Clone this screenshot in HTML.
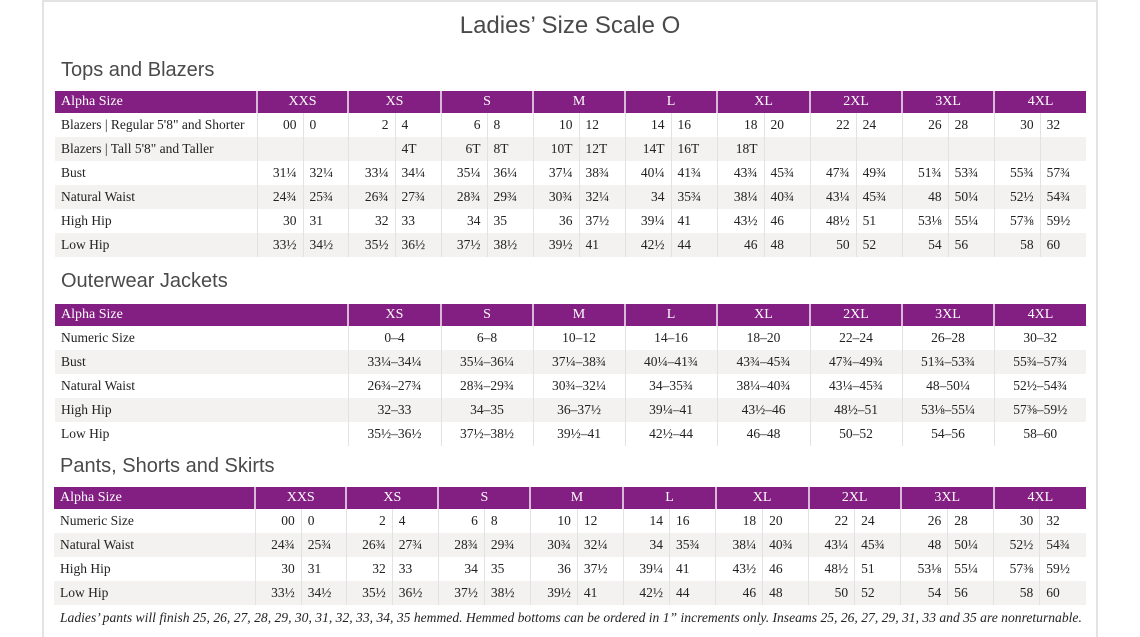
<!DOCTYPE html>
<html><head><meta charset="utf-8"><style>
*{margin:0;padding:0;box-sizing:border-box}
body{width:1140px;height:637px;background:#fff;position:relative;overflow:hidden;font-family:"Liberation Serif",serif;color:#222}
.frame{position:absolute;left:42px;top:0;width:1056px;height:637px;border-left:2px solid #e4e2e2;border-right:2px solid #e4e2e2;border-top:2px solid #e4e2e2}
h1{position:absolute;left:0;width:1140px;top:12px;text-align:center;font:24px "Liberation Sans",sans-serif;color:#4a4a4a}
h2{position:absolute;font:20px "Liberation Sans",sans-serif;color:#4a4a4a;font-weight:normal}
table{position:absolute;border-collapse:collapse;table-layout:fixed;font-size:13.5px}
td{height:24px;white-space:nowrap;overflow:hidden;border-right:1px solid #e2e2e2}
tr.h td{height:22px;background:#831f82;color:#fff;text-align:center;border-right:2px solid #d9b8d8;font-size:14px}
tr.h td:first-child{text-align:left;padding-left:6px}
tr.g td{background:#f3f2f1}
td.n{padding-left:6px;text-align:left}
td.a{text-align:right;padding-right:6px}
td.b{text-align:left;padding-left:6px}
td.c{text-align:center}
tr td:last-child{border-right:none}
tr.h td:last-child{border-right:none}
.foot{position:absolute;left:60px;top:610px;font:italic 13.6px "Liberation Serif",serif;color:#222;white-space:nowrap}
</style></head><body>
<div class="frame"></div>
<h1>Ladies’ Size Scale O</h1>

<h2 style="left:61px;top:59px">Tops and Blazers</h2>
<table style="left:55px;top:91px;width:1031px">
<colgroup><col style="width:202px"><col style="width:46px"><col style="width:45px"><col style="width:47px"><col style="width:46px"><col style="width:46px"><col style="width:46px"><col style="width:46px"><col style="width:46px"><col style="width:46px"><col style="width:46px"><col style="width:47px"><col style="width:46px"><col style="width:46px"><col style="width:46px"><col style="width:46px"><col style="width:46px"><col style="width:46px"><col style="width:46px"></colgroup>
<tr class="h"><td>Alpha Size</td><td colspan="2">XXS</td><td colspan="2">XS</td><td colspan="2">S</td><td colspan="2">M</td><td colspan="2">L</td><td colspan="2">XL</td><td colspan="2">2XL</td><td colspan="2">3XL</td><td colspan="2">4XL</td></tr>
<tr><td class="n">Blazers&nbsp;| Regular 5'8" and Shorter</td><td class="a">00</td><td class="b">0</td><td class="a">2</td><td class="b">4</td><td class="a">6</td><td class="b">8</td><td class="a">10</td><td class="b">12</td><td class="a">14</td><td class="b">16</td><td class="a">18</td><td class="b">20</td><td class="a">22</td><td class="b">24</td><td class="a">26</td><td class="b">28</td><td class="a">30</td><td class="b">32</td></tr>
<tr class="g"><td class="n">Blazers&nbsp;| Tall 5'8" and Taller</td><td class="a"></td><td class="b"></td><td class="a"></td><td class="b">4T</td><td class="a">6T</td><td class="b">8T</td><td class="a">10T</td><td class="b">12T</td><td class="a">14T</td><td class="b">16T</td><td class="a">18T</td><td class="b"></td><td class="a"></td><td class="b"></td><td class="a"></td><td class="b"></td><td class="a"></td><td class="b"></td></tr>
<tr><td class="n">Bust</td><td class="a">31¼</td><td class="b">32¼</td><td class="a">33¼</td><td class="b">34¼</td><td class="a">35¼</td><td class="b">36¼</td><td class="a">37¼</td><td class="b">38¾</td><td class="a">40¼</td><td class="b">41¾</td><td class="a">43¾</td><td class="b">45¾</td><td class="a">47¾</td><td class="b">49¾</td><td class="a">51¾</td><td class="b">53¾</td><td class="a">55¾</td><td class="b">57¾</td></tr>
<tr class="g"><td class="n">Natural Waist</td><td class="a">24¾</td><td class="b">25¾</td><td class="a">26¾</td><td class="b">27¾</td><td class="a">28¾</td><td class="b">29¾</td><td class="a">30¾</td><td class="b">32¼</td><td class="a">34</td><td class="b">35¾</td><td class="a">38¼</td><td class="b">40¾</td><td class="a">43¼</td><td class="b">45¾</td><td class="a">48</td><td class="b">50¼</td><td class="a">52½</td><td class="b">54¾</td></tr>
<tr><td class="n">High Hip</td><td class="a">30</td><td class="b">31</td><td class="a">32</td><td class="b">33</td><td class="a">34</td><td class="b">35</td><td class="a">36</td><td class="b">37½</td><td class="a">39¼</td><td class="b">41</td><td class="a">43½</td><td class="b">46</td><td class="a">48½</td><td class="b">51</td><td class="a">53⅛</td><td class="b">55¼</td><td class="a">57⅜</td><td class="b">59½</td></tr>
<tr class="g"><td class="n">Low Hip</td><td class="a">33½</td><td class="b">34½</td><td class="a">35½</td><td class="b">36½</td><td class="a">37½</td><td class="b">38½</td><td class="a">39½</td><td class="b">41</td><td class="a">42½</td><td class="b">44</td><td class="a">46</td><td class="b">48</td><td class="a">50</td><td class="b">52</td><td class="a">54</td><td class="b">56</td><td class="a">58</td><td class="b">60</td></tr>
</table>

<h2 style="left:61px;top:270px">Outerwear Jackets</h2>
<table style="left:55px;top:304px;width:1031px">
<colgroup><col style="width:293px"><col style="width:93px"><col style="width:92px"><col style="width:92px"><col style="width:92px"><col style="width:93px"><col style="width:92px"><col style="width:92px"><col style="width:92px"></colgroup>
<tr class="h"><td>Alpha Size</td><td>XS</td><td>S</td><td>M</td><td>L</td><td>XL</td><td>2XL</td><td>3XL</td><td>4XL</td></tr>
<tr><td class="n">Numeric Size</td><td class="c">0–4</td><td class="c">6–8</td><td class="c">10–12</td><td class="c">14–16</td><td class="c">18–20</td><td class="c">22–24</td><td class="c">26–28</td><td class="c">30–32</td></tr>
<tr class="g"><td class="n">Bust</td><td class="c">33¼–34¼</td><td class="c">35¼–36¼</td><td class="c">37¼–38¾</td><td class="c">40¼–41¾</td><td class="c">43¾–45¾</td><td class="c">47¾–49¾</td><td class="c">51¾–53¾</td><td class="c">55¾–57¾</td></tr>
<tr><td class="n">Natural Waist</td><td class="c">26¾–27¾</td><td class="c">28¾–29¾</td><td class="c">30¾–32¼</td><td class="c">34–35¾</td><td class="c">38¼–40¾</td><td class="c">43¼–45¾</td><td class="c">48–50¼</td><td class="c">52½–54¾</td></tr>
<tr class="g"><td class="n">High Hip</td><td class="c">32–33</td><td class="c">34–35</td><td class="c">36–37½</td><td class="c">39¼–41</td><td class="c">43½–46</td><td class="c">48½–51</td><td class="c">53⅛–55¼</td><td class="c">57⅜–59½</td></tr>
<tr><td class="n">Low Hip</td><td class="c">35½–36½</td><td class="c">37½–38½</td><td class="c">39½–41</td><td class="c">42½–44</td><td class="c">46–48</td><td class="c">50–52</td><td class="c">54–56</td><td class="c">58–60</td></tr>
</table>

<h2 style="left:60px;top:455px">Pants, Shorts and Skirts</h2>
<table style="left:54px;top:487px;width:1032px">
<colgroup><col style="width:201px"><col style="width:46px"><col style="width:45px"><col style="width:46px"><col style="width:46px"><col style="width:46px"><col style="width:46px"><col style="width:47px"><col style="width:46px"><col style="width:46px"><col style="width:46px"><col style="width:47px"><col style="width:46px"><col style="width:46px"><col style="width:46px"><col style="width:47px"><col style="width:46px"><col style="width:46px"><col style="width:46px"></colgroup>
<tr class="h"><td>Alpha Size</td><td colspan="2">XXS</td><td colspan="2">XS</td><td colspan="2">S</td><td colspan="2">M</td><td colspan="2">L</td><td colspan="2">XL</td><td colspan="2">2XL</td><td colspan="2">3XL</td><td colspan="2">4XL</td></tr>
<tr><td class="n">Numeric Size</td><td class="a">00</td><td class="b">0</td><td class="a">2</td><td class="b">4</td><td class="a">6</td><td class="b">8</td><td class="a">10</td><td class="b">12</td><td class="a">14</td><td class="b">16</td><td class="a">18</td><td class="b">20</td><td class="a">22</td><td class="b">24</td><td class="a">26</td><td class="b">28</td><td class="a">30</td><td class="b">32</td></tr>
<tr class="g"><td class="n">Natural Waist</td><td class="a">24¾</td><td class="b">25¾</td><td class="a">26¾</td><td class="b">27¾</td><td class="a">28¾</td><td class="b">29¾</td><td class="a">30¾</td><td class="b">32¼</td><td class="a">34</td><td class="b">35¾</td><td class="a">38¼</td><td class="b">40¾</td><td class="a">43¼</td><td class="b">45¾</td><td class="a">48</td><td class="b">50¼</td><td class="a">52½</td><td class="b">54¾</td></tr>
<tr><td class="n">High Hip</td><td class="a">30</td><td class="b">31</td><td class="a">32</td><td class="b">33</td><td class="a">34</td><td class="b">35</td><td class="a">36</td><td class="b">37½</td><td class="a">39¼</td><td class="b">41</td><td class="a">43½</td><td class="b">46</td><td class="a">48½</td><td class="b">51</td><td class="a">53⅛</td><td class="b">55¼</td><td class="a">57⅜</td><td class="b">59½</td></tr>
<tr class="g"><td class="n">Low Hip</td><td class="a">33½</td><td class="b">34½</td><td class="a">35½</td><td class="b">36½</td><td class="a">37½</td><td class="b">38½</td><td class="a">39½</td><td class="b">41</td><td class="a">42½</td><td class="b">44</td><td class="a">46</td><td class="b">48</td><td class="a">50</td><td class="b">52</td><td class="a">54</td><td class="b">56</td><td class="a">58</td><td class="b">60</td></tr>
</table>
<div class="foot">Ladies’ pants will finish 25, 26, 27, 28, 29, 30, 31, 32, 33, 34, 35 hemmed. Hemmed bottoms can be ordered in 1” increments only. Inseams 25, 26, 27, 29, 31, 33 and 35 are nonreturnable.</div>
</body></html>
